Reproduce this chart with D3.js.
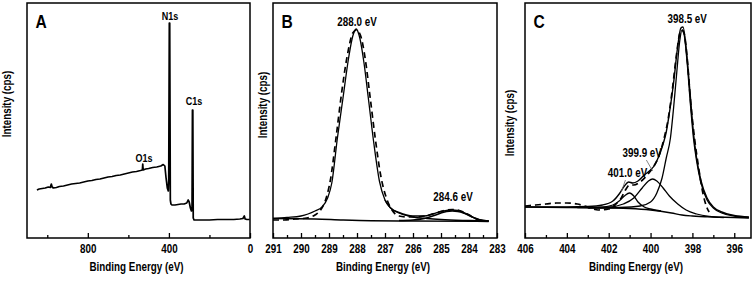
<!DOCTYPE html>
<html>
<head>
<meta charset="utf-8">
<script src="https://cdn.jsdelivr.net/npm/d3@7"></script>
<style>
  body { margin: 0; background: #fff; }
  svg text { font-family: "Liberation Sans", Arial, sans-serif; font-weight: bold; fill: #000; }
</style>
</head>
<body>
<svg id="chart" width="756" height="281"></svg>
<script>
// ---- data (binding energy in eV, intensity in arbitrary units) ----

// panel A: survey spectrum
var surveyA = [
  [1051,48],[1040,49],[1025,49.5],[1010,50],[995,51],[985,50.5],[980,54],[976,51],[970,50],
  [955,50.5],[940,51.5],[920,52],[900,53],[880,54],[860,54.5],[840,55],[820,56],[800,57],
  [780,57.5],[760,58.5],[740,59],[720,60],[700,61],[680,61.5],[660,62.5],[640,63],[620,64],
  [600,65],[580,66],[560,66.5],[540,67.5],[531,68],[529,74],[527,68],[515,69],[500,69.5],
  [480,70.5],[460,71],[440,72],[428,73.5],[420,72],[414,60],[408,50],[403,47],[401,58],
  [398,215],[396,215],[393,38],[390,34],[385,33],[370,33],[355,33.5],[340,34],[325,34],
  [312,35],[305,38],[300,36],[294,30],[289,27],[286,30],[284,128],[282,128],[280,20],
  [276,18],[270,18],[240,18],[200,18],[160,18.5],[120,18.5],[80,18.5],[50,19],[35,19.5],
  [28,22],[24,19],[15,18.5],[2,18.5]
];
var peaksA = ["N1s", "C1s", "O1s"];
var peaksAPos = [[395,218],[276,133],[523,76]];
var ticksA = [800, 400, 0];
var minorA = [1000, 600, 200];

// panel B: C1s
var rawB = [
  [291,18],[290.6,18],[290.2,19],[289.8,20],[289.5,23],[289.3,28],[289.1,40],[288.95,58],
  [288.75,100],[288.55,145],[288.35,182],[288.15,205],[288.02,208],[287.88,203],[287.7,178],
  [287.55,145],[287.35,100],[287.15,62],[286.95,40],[286.75,28],[286.5,22],[286.2,21],
  [285.9,21],[285.6,22],[285.3,24],[285,26.5],[284.8,28],[284.6,28.5],[284.4,28],[284.2,26],
  [284,23],[283.8,19.5],[283.5,17.5],[283.3,17]
];
var fit288 = [
  [291,19.5],[290.5,20.5],[290,22],[289.75,24],[289.5,27],[289.25,31],[289.05,40],[288.9,55],
  [288.7,100],[288.5,140],[288.3,180],[288.15,202],[288.03,209],[287.9,200],[287.75,175],
  [287.6,141],[287.4,95],[287.2,57],[287,38],[286.8,30],[286.5,25],[286,21],[285.5,19.5],
  [285,18.5],[284,17.5],[283.3,17]
];
var fit2846 = [
  [286.5,17.5],[286,18],[285.6,19.5],[285.3,22],[285,25],[284.8,26.5],[284.6,27],
  [284.4,26.5],[284.2,25],[284,22.5],[283.8,20],[283.6,18],[283.3,17]
];
var envB = [
  [287,38],[286.8,30],[286.5,25.5],[286,22],[285.6,22],[285.3,24],[285,26.5],[284.8,27.5],
  [284.6,28],[284.4,27.5],[284.2,25.5],[284,23],[283.8,20],[283.6,18],[283.3,17]
];
var bgB = [[291,19.5],[289.5,19],[288.5,18],[287.5,17.3],[286,17],[283.3,16.5]];
var peaksB = ["288.0 eV", "284.6 eV"];
var peaksBPos = [[288.0,212],[284.57,37]];
var ticksB = [291, 290, 289, 288, 287, 286, 285, 284, 283];
var minorB = [290.5, 289.5, 288.5, 287.5, 286.5, 285.5, 284.5, 283.5];

// panel C: N1s
var rawC = [
  [406,32],[405.5,33],[405,34],[404.5,35],[404,35],[403.5,34],[403,31],[402.5,28],[402,29],
  [401.7,33],[401.4,40],[401.2,48],[401,53],[400.8,53],[400.5,56],[400.2,62],[399.9,70],
  [399.6,82],[399.35,100],[399.15,120],[398.95,150],[398.75,185],[398.6,205],[398.5,208],
  [398.4,205],[398.25,180],[398.1,140],[397.9,100],[397.7,70],[397.5,45],[397.3,30],[397.2,26]
];
var fit3985 = [
  [403,30],[401.5,30.5],[400.5,32],[400,36],[399.7,45],[399.45,60],[399.25,80],[399.05,100],
  [398.9,130],[398.75,165],[398.6,198],[398.5,208],[398.4,204],[398.25,175],[398.1,135],
  [397.95,100],[397.8,77],[397.6,56],[397.3,38],[397,30],[396.6,25],[396,22],[395.3,20.5]
];
var fit3999 = [
  [403.5,30.5],[402,31],[401.3,34],[400.8,40],[400.4,50],[400.1,57],[399.9,59],[399.7,57],
  [399.4,50],[399.1,42],[398.7,34],[398.3,28],[397.8,24],[397.2,21.5],[396.5,20.5]
];
var fit4010 = [
  [402.5,30.5],[401.8,33],[401.5,37],[401.25,42],[401,45],[400.8,42],[400.6,36],[400.3,31],
  [400,29],[399.5,27]
];
var envC = [
  [406,31],[404,31],[403,31.5],[402.3,33],[401.8,37],[401.5,44],[401.25,52],[401.05,56],
  [400.85,55],[400.6,57],[400.3,63],[400,68],[399.8,73],[399.6,82],[399.4,94],[399.25,106],
  [399.1,125],[398.9,155],[398.7,192],[398.55,210],[398.45,211],[398.3,190],[398.1,142],
  [397.95,105],[397.8,80],[397.6,58],[397.3,40],[397,31],[396.6,26],[396,22.5],[395.3,21]
];
var bgC = [
  [406,31],[404,30.5],[402,30],[401,29.5],[400,28],[399,25],[398.5,23],[398,22],[397,21],
  [396,20.5],[395.3,20]
];
var peaksC = ["398.5 eV", "399.9 eV", "401.0 eV"];
var peaksCPos = [[398.25,215],[400.4,81],[401.1,61]];
var leadersC = [[[400.2,78],[399.9,67]], [[401.2,58],[401.4,46]]];
var ticksC = [406, 404, 402, 400, 398, 396];
var minorC = [405, 403, 401, 399, 397];

// ---- drawing ----
var svg = d3.select("#chart");
var frameTop = 3, frameBottom = 238;
var squeeze = 0.82; // the figure uses a condensed bold face
var y = d3.scaleLinear().domain([0, 235]).range([frameBottom, frameTop]);

function addText(parent, px, py, str, size, rot) {
  return parent.append("text")
    .attr("transform", "translate(" + px + "," + py + ")" + (rot ? " rotate(" + rot + ")" : "") + " scale(" + squeeze + ",1)")
    .attr("text-anchor", "middle")
    .style("font-size", size)
    .text(str);
}

function makePanel(left, right, domain, major, minor, letter, yLabelX, yLabelY) {
  var x = d3.scaleLinear().domain(domain).range([left, right]);
  var g = svg.append("g");

  g.append("g")
    .attr("transform", "translate(0," + frameBottom + ")")
    .call(d3.axisBottom(x).tickValues(minor).tickSize(-3).tickFormat(""))
    .call(function (a) { a.select(".domain").remove(); })
    .selectAll("line").attr("stroke-width", 1.3);

  g.append("g")
    .attr("transform", "translate(0," + frameBottom + ")")
    .call(d3.axisBottom(x).tickValues(major).tickSize(-5).tickPadding(6).tickFormat(d3.format("d")))
    .call(function (a) { a.select(".domain").remove(); })
    .call(function (a) {
      a.selectAll("line").attr("stroke-width", 1.3);
      a.selectAll("text")
        .attr("transform", "scale(" + squeeze + ",1)")
        .style("font-size", "12px");
    });

  g.append("rect")
    .attr("x", left).attr("y", frameTop)
    .attr("width", right - left).attr("height", frameBottom - frameTop)
    .attr("fill", "none").attr("stroke", "#000").attr("stroke-width", 1.5);

  addText(g, left + 14, frameTop + 25, letter, "19px");
  addText(g, (left + right) / 2 - 2, 271, "Binding Energy (eV)", "12px");
  addText(g, yLabelX, yLabelY, "Intensity (cps)", "12px", -90);

  return { g: g, x: x };
}

function drawLine(p, data, width, dash, curve) {
  var line = d3.line()
    .x(function (d) { return p.x(d[0]); })
    .y(function (d) { return y(d[1]); })
    .curve(curve || d3.curveMonotoneX);
  p.g.append("path")
    .datum(data)
    .attr("d", line)
    .attr("fill", "none")
    .attr("stroke", "#000")
    .attr("stroke-width", width)
    .attr("stroke-linejoin", "round")
    .attr("stroke-dasharray", dash || null);
}

function drawLabels(p, names, pos, size) {
  names.forEach(function (d, i) {
    addText(p.g, p.x(pos[i][0]), y(pos[i][1]), d, size);
  });
}

// A
var pA = makePanel(27, 250, [1100, 0], ticksA, minorA, "A", 11, 104);
drawLine(pA, surveyA, 1.7, null, d3.curveLinear);
drawLabels(pA, peaksA, peaksAPos, "11px");

// B
var pB = makePanel(273, 497, [291, 283], ticksB, minorB, "B", 267, 105);
drawLine(pB, bgB, 1.4);
drawLine(pB, rawB, 1.7, "6,4");
drawLine(pB, fit288, 1.3);
drawLine(pB, envB, 1.4);
drawLine(pB, fit2846, 1.6);
drawLabels(pB, peaksB, peaksBPos, "12px");

// C
var pC = makePanel(525, 751, [406, 395.2], ticksC, minorC, "C", 514, 123);
drawLine(pC, bgC, 1.4);
drawLine(pC, rawC, 1.7, "6,4");
drawLine(pC, fit4010, 1.3);
drawLine(pC, fit3999, 1.3);
drawLine(pC, fit3985, 1.3);
drawLine(pC, envC, 1.4);
drawLabels(pC, peaksC, peaksCPos, "12px");
pC.g.selectAll(null)
  .data(leadersC)
  .enter().append("line")
  .attr("x1", function (d) { return pC.x(d[0][0]); })
  .attr("y1", function (d) { return y(d[0][1]); })
  .attr("x2", function (d) { return pC.x(d[1][0]); })
  .attr("y2", function (d) { return y(d[1][1]); })
  .attr("stroke", "#666").attr("stroke-width", 0.8);
</script>
</body>
</html>
